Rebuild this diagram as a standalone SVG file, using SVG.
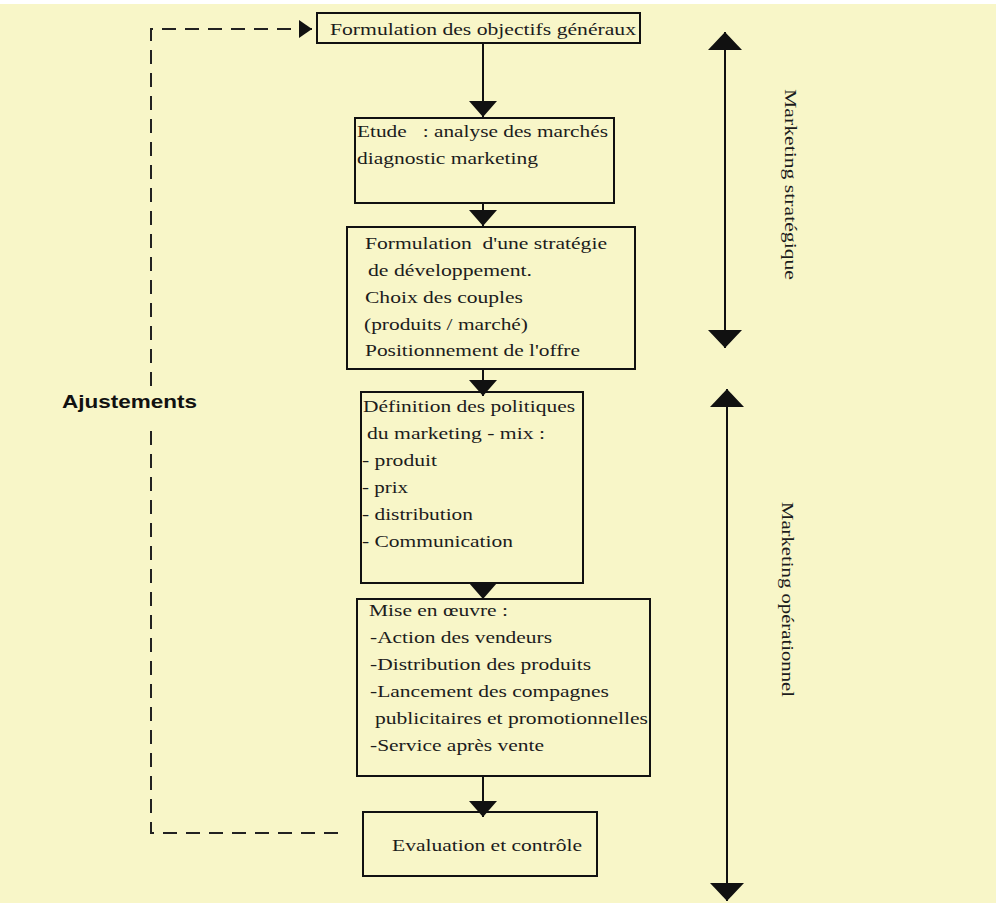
<svg xmlns="http://www.w3.org/2000/svg" width="998" height="903" viewBox="0 0 998 903">
  <defs>
    <style>
      .box { fill: none; stroke: #111; stroke-width: 2; }
      .lbl { font-family: "Liberation Serif", "Times New Roman", serif; font-size: 17px; fill: #1c1c1c; white-space: pre; }
      .side { font-family: "Liberation Serif", "Times New Roman", serif; font-size: 16px; fill: #1c1c1c; }
      .flow { stroke: #111; stroke-width: 2; fill: none; }
      .loop { stroke: #222; stroke-width: 2; fill: none; stroke-dasharray: 14 9; }
      .span { stroke: #111; stroke-width: 2; fill: none; }
    </style>
    <marker id="tri" viewBox="0 0 16 28" refX="16" refY="14" markerWidth="16" markerHeight="28" markerUnits="userSpaceOnUse" orient="auto">
      <path d="M0,0 L16,14 L0,28 z" fill="#111"/>
    </marker>
    <marker id="tri-small" viewBox="0 0 13 18" refX="13" refY="9" markerWidth="13" markerHeight="18" markerUnits="userSpaceOnUse" orient="auto">
      <path d="M0,0 L13,9 L0,18 z" fill="#111"/>
    </marker>
    <marker id="tri-big" viewBox="0 0 18 34" refX="18" refY="17" markerWidth="18" markerHeight="34" markerUnits="userSpaceOnUse" orient="auto-start-reverse">
      <path d="M0,0 L18,17 L0,34 z" fill="#111"/>
    </marker>
  </defs>

  <!-- page background -->
  <rect x="0" y="0" width="998" height="903" fill="#ffffff"/>
  <rect x="0" y="4" width="996" height="899" fill="#f8f6c8"/>

  <!-- connectors -->
  <g id="connectors">
    <path class="flow" d="M483,43 V117" marker-end="url(#tri)"/>
    <path class="flow" d="M483,203 V226" marker-end="url(#tri)"/>
    <path class="flow" d="M483,369 V396" marker-end="url(#tri)"/>
    <path class="flow" d="M483,583 V599" marker-end="url(#tri)"/>
    <path class="flow" d="M483,776 V817" marker-end="url(#tri)"/>
    <!-- feedback loop (Ajustements) -->
    <path class="loop" d="M338,833 H151 V428"/>
    <path class="loop" d="M151,386 V29 H312" marker-end="url(#tri-small)"/>
    <!-- phase spans -->
    <path class="span" d="M725,32 V348" marker-start="url(#tri-big)" marker-end="url(#tri-big)"/>
    <path class="span" d="M727,389 V901" marker-start="url(#tri-big)" marker-end="url(#tri-big)"/>
  </g>

  <g id="objectifs">
    <rect class="box" x="317" y="13" width="323" height="30"/>
    <text class="lbl" x="330" y="35" textLength="306" lengthAdjust="spacingAndGlyphs">Formulation des objectifs généraux</text>
  </g>

  <g id="etude">
    <rect class="box" x="355" y="118" width="259" height="85"/>
    <text class="lbl" x="357" y="137" textLength="251" lengthAdjust="spacingAndGlyphs">Etude   : analyse des marchés</text>
    <text class="lbl" x="357" y="164" textLength="181" lengthAdjust="spacingAndGlyphs">diagnostic marketing</text>
  </g>

  <g id="strategie">
    <rect class="box" x="347" y="227" width="288" height="142"/>
    <text class="lbl" x="365" y="249" textLength="242" lengthAdjust="spacingAndGlyphs">Formulation  d'une stratégie</text>
    <text class="lbl" x="368" y="276" textLength="164" lengthAdjust="spacingAndGlyphs">de développement.</text>
    <text class="lbl" x="365" y="303" textLength="158" lengthAdjust="spacingAndGlyphs">Choix des couples</text>
    <text class="lbl" x="364" y="330" textLength="164" lengthAdjust="spacingAndGlyphs">(produits / marché)</text>
    <text class="lbl" x="365" y="356" textLength="215" lengthAdjust="spacingAndGlyphs">Positionnement de l'offre</text>
  </g>

  <g id="politiques">
    <rect class="box" x="361" y="392" width="222" height="191"/>
    <text class="lbl" x="363" y="412" textLength="212" lengthAdjust="spacingAndGlyphs">Définition des politiques</text>
    <text class="lbl" x="367" y="439" textLength="178" lengthAdjust="spacingAndGlyphs">du marketing - mix :</text>
    <text class="lbl" x="362" y="466" textLength="75" lengthAdjust="spacingAndGlyphs">- produit</text>
    <text class="lbl" x="362" y="493" textLength="46" lengthAdjust="spacingAndGlyphs">- prix</text>
    <text class="lbl" x="362" y="520" textLength="111" lengthAdjust="spacingAndGlyphs">- distribution</text>
    <text class="lbl" x="362" y="547" textLength="151" lengthAdjust="spacingAndGlyphs">- Communication</text>
  </g>

  <g id="mise-en-oeuvre">
    <rect class="box" x="357" y="599" width="293" height="177"/>
    <text class="lbl" x="369" y="616" textLength="139" lengthAdjust="spacingAndGlyphs">Mise en œuvre :</text>
    <text class="lbl" x="370" y="643" textLength="182" lengthAdjust="spacingAndGlyphs">-Action des vendeurs</text>
    <text class="lbl" x="370" y="670" textLength="221" lengthAdjust="spacingAndGlyphs">-Distribution des produits</text>
    <text class="lbl" x="370" y="697" textLength="239" lengthAdjust="spacingAndGlyphs">-Lancement des compagnes</text>
    <text class="lbl" x="375" y="724" textLength="273" lengthAdjust="spacingAndGlyphs">publicitaires et promotionnelles</text>
    <text class="lbl" x="370" y="751" textLength="174" lengthAdjust="spacingAndGlyphs">-Service après vente</text>
  </g>

  <g id="evaluation">
    <rect class="box" x="363" y="812" width="234" height="64"/>
    <text class="lbl" x="392" y="851" textLength="190" lengthAdjust="spacingAndGlyphs">Evaluation et contrôle</text>
  </g>

  <g id="ajustements">
    <text x="62" y="408" font-family="Liberation Sans, Arial, sans-serif" font-size="18" font-weight="bold" fill="#111" textLength="135" lengthAdjust="spacingAndGlyphs">Ajustements</text>
  </g>

  <g id="phase-strategique">
    <text class="side" transform="translate(785,89) rotate(90)" textLength="191" lengthAdjust="spacingAndGlyphs">Marketing stratégique</text>
  </g>

  <g id="phase-operationnel">
    <text class="side" transform="translate(782,502) rotate(90)" textLength="195" lengthAdjust="spacingAndGlyphs">Marketing opérationnel</text>
  </g>
</svg>
